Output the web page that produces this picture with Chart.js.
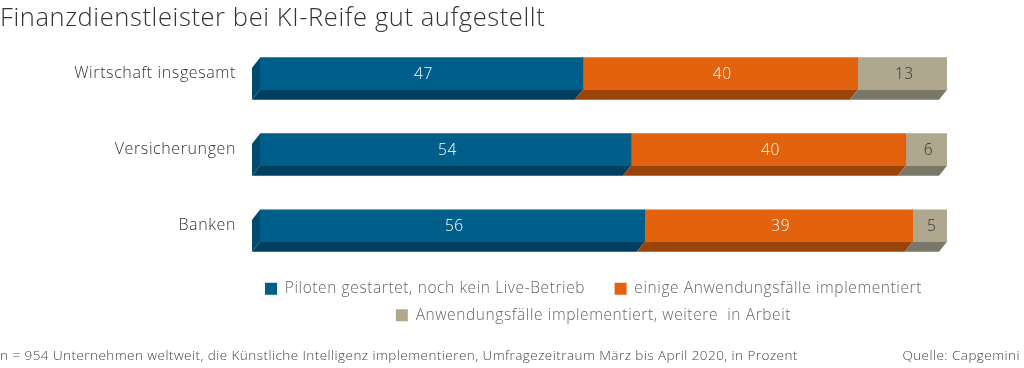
<!DOCTYPE html>
<html>
<head>
<meta charset="utf-8">
<script src="https://cdn.jsdelivr.net/npm/chart.js@4/dist/chart.umd.min.js"></script>
<style>
	body { margin: 0; background: #fff; }
	#wrap { position: relative; width: 1024px; height: 368px; overflow: hidden; }
	.foot { position: absolute; top: 346px; font: 300 13.5px "Open Sans", sans-serif; letter-spacing: 0.45px; color: #444; white-space: nowrap; }
</style>
</head>
<body>
<div id="wrap">
	<canvas id="chart" width="1024" height="368"></canvas>
	<div class="foot" style="left:0">n = 954 Unternehmen weltweit, die Künstliche Intelligenz implementieren, Umfragezeitraum März bis April 2020, in Prozent</div>
	<div class="foot" style="right:4px">Quelle: Capgemini</div>
</div>
<script>
	'use strict';

	var categories = ["Wirtschaft insgesamt", "Versicherungen", "Banken"];
	var seriesNames = ["Piloten gestartet, noch kein Live-Betrieb", "einige Anwendungsfälle implementiert", "Anwendungsfälle implementiert, weitere  in Arbeit"];
	var piloten = [47, 54, 56];
	var einige = [40, 40, 39];
	var weitere = [13, 6, 5];

	var FONT = "'Open Sans', sans-serif";
	var SPACING = "0.6px";
	var faceColors = ["#005e8a", "#e2620e", "#b0a78f"];
	var bottomColors = ["#003f5f", "#9a4409", "#7b7768"];
	var leftColor = "#004a6d";
	var labelColors = ["#ffffff", "#ffffff", "#333333"];
	var DX = 8, DY = 10;

	// fake 3d: bottom face + left face behind every bar
	var extrude = {
		id: "extrude",
		beforeUpdate: function(chart) {
			chart.ctx.letterSpacing = SPACING;
		},
		afterLayout: function(chart) {
			// legend sits a bit left of the plot centre in the original
			if (chart.legend) {
				chart.legend.left -= 10;
				chart.legend.right -= 10;
			}
		},
		beforeDraw: function(chart) {
			chart.ctx.letterSpacing = SPACING;
		},
		beforeDatasetsDraw: function(chart) {
			var ctx = chart.ctx;
			ctx.save();
			chart.data.datasets.forEach(function(ds, i) {
				chart.getDatasetMeta(i).data.forEach(function(bar) {
					var p = bar.getProps(["x", "y", "base", "height"], true);
					var top = p.y - p.height / 2, bot = p.y + p.height / 2;
					var x0 = Math.min(p.base, p.x), x1 = Math.max(p.base, p.x);
					ctx.fillStyle = bottomColors[i];
					ctx.beginPath();
					ctx.moveTo(x0, bot);
					ctx.lineTo(x1, bot);
					ctx.lineTo(x1 - DX, bot + DY);
					ctx.lineTo(x0 - DX, bot + DY);
					ctx.closePath();
					ctx.fill();
					if (i === 0) {
						ctx.fillStyle = leftColor;
						ctx.beginPath();
						ctx.moveTo(x0, top);
						ctx.lineTo(x0, bot);
						ctx.lineTo(x0 - DX, bot + DY);
						ctx.lineTo(x0 - DX, top + DY);
						ctx.closePath();
						ctx.fill();
					}
				});
			});
			ctx.restore();
		},
		afterDatasetsDraw: function(chart) {
			var ctx = chart.ctx;
			ctx.save();
			ctx.font = "300 15.5px " + FONT;
			ctx.textAlign = "center";
			ctx.textBaseline = "middle";
			chart.data.datasets.forEach(function(ds, i) {
				chart.getDatasetMeta(i).data.forEach(function(bar, j) {
					var p = bar.getProps(["x", "y", "base"], true);
					ctx.fillStyle = labelColors[i];
					ctx.fillText(String(ds.data[j]), (p.x + p.base) / 2 + 2, p.y + 1);
				});
			});
			ctx.restore();
		}
	};

	var datasets = [piloten, einige, weitere].map(function(values, i) {
		return {
			label: seriesNames[i],
			data: values,
			backgroundColor: faceColors[i],
			borderWidth: 0,
			barThickness: 32
		};
	});

	new Chart(document.getElementById("chart").getContext("2d"), {
		type: "bar",
		data: { labels: categories, datasets: datasets },
		plugins: [extrude],
		options: {
			indexAxis: "y",
			responsive: false,
			animation: false,
			layout: { padding: { left: 0, right: 77, top: 0, bottom: 35 } },
			scales: {
				x: { stacked: true, min: 0, max: 100, display: false },
				y: {
					stacked: true,
					grid: { display: false, drawTicks: false },
					border: { display: false },
					ticks: { padding: 24, color: "#333", font: { family: FONT, size: 16, weight: 300 } },
					afterFit: function(scale) { scale.width = 260; }
				}
			},
			plugins: {
				title: {
					display: true,
					text: "Finanzdienstleister bei KI-Reife gut aufgestellt",
					align: "start",
					color: "#333",
					font: { family: FONT, size: 25.5, weight: 300 },
					padding: { top: 3, bottom: 2 }
				},
				legend: {
					position: "bottom",
					fullSize: false,
					title: { display: true, text: "", font: { size: 1 }, padding: { top: 5, bottom: 0 } },
					labels: {
						color: "#333",
						font: { family: FONT, size: 15.5, weight: 300 },
						boxWidth: 12,
						boxHeight: 12,
						padding: 11,
						generateLabels: function(chart) {
							return chart.data.datasets.map(function(ds, i) {
								return {
									text: i === 0 ? ds.label + "    " : ds.label,
									fillStyle: ds.backgroundColor,
									strokeStyle: ds.backgroundColor,
									lineWidth: 0,
									datasetIndex: i
								};
							});
						}
					}
				},
				tooltip: { enabled: false }
			}
		}
	});
</script>
</body>
</html>
